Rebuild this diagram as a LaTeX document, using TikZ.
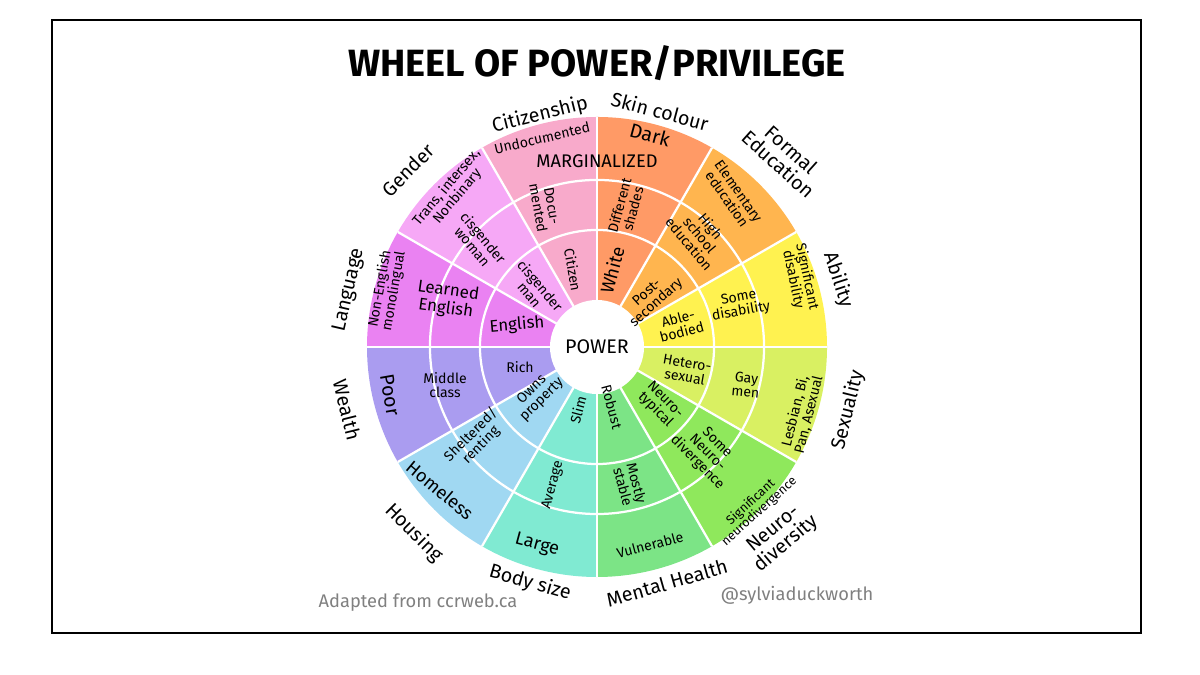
\documentclass[tikz,border=0pt]{standalone}
\usepackage{fontspec}
\setmainfont{Fira Sans}
\usetikzlibrary{positioning}
\definecolor{skin}{HTML}{FF9A66}
\definecolor{edu}{HTML}{FFB54F}
\definecolor{abil}{HTML}{FFF250}
\definecolor{sexu}{HTML}{D9F062}
\definecolor{neuro}{HTML}{8FE85C}
\definecolor{mental}{HTML}{7CE486}
\definecolor{body}{HTML}{80EAD2}
\definecolor{housing}{HTML}{A0D8F2}
\definecolor{wealth}{HTML}{AA9CF0}
\definecolor{lang}{HTML}{EA82F2}
\definecolor{gender}{HTML}{F6A8F6}
\definecolor{citiz}{HTML}{F8AACB}
\tikzset{
  lbl/.style={font=\fontsize{10}{10}\selectfont, align=center, inner sep=0pt},
  cat/.style={font=\fontsize{14}{14}\selectfont, align=center, inner sep=0pt},
  sepline/.style={white, line width=1.6pt}
}
\begin{document}
\begin{tikzpicture}[x=0.025cm, y=0.025cm]
    \useasboundingbox (0,0) rectangle (1200,675);
    \draw[line width=1.2pt] (52,42) rectangle (1141,655);
    \node[font=\bfseries\fontsize{27}{27}\selectfont] (title) at (597,612) {WHEEL OF POWER/PRIVILEGE};
    % wheel
    \begin{scope}[shift={(597,328)}]
      \foreach \a/\c in {60/skin,30/edu,0/abil,-30/sexu,-60/neuro,-90/mental,-120/body,-150/housing,180/wealth,150/lang,120/gender,90/citiz}
        \fill[\c] (0,0) -- (\a:230) arc[start angle=\a, delta angle=30, radius=5.75cm] -- cycle;
      \draw[sepline] (0,0) circle[radius=2.925cm];
      \draw[sepline] (0,0) circle[radius=4.175cm];
      \foreach \a in {0,30,...,330}
        \draw[sepline] (0,0) -- (\a:230);
      \fill[white] (0,0) circle[radius=1.175cm];
    \end{scope}
    \node[font=\fontsize{14}{14}\selectfont] (power) at (597,328) {POWER};
    \node[font=\fontsize{13}{13}\selectfont] (marg) at (597,514) {MARGINALIZED};
    % categories
    \node[cat, rotate=14] (citizenship) at (540,560) {Citizenship};
    \node[cat, rotate=-15] (skincol) at (660,564) {Skin colour};
    \node[cat, rotate=-42] (education) at (785,518) {Formal\\Education};
    \node[cat, rotate=-72] (ability) at (838,395) {Ability};
    \node[cat, rotate=76] (sexuality) at (848,265) {Sexuality};
    \node[cat, rotate=40] (neurodiv) at (780,138) {Neuro-\\diversity};
    \node[cat, rotate=16] (mentalh) at (667,92) {Mental Health};
    \node[cat, rotate=-16] (bodysize) at (530,92) {Body size};
    \node[cat, rotate=-45] (housingl) at (414,142) {Housing};
    \node[cat, rotate=-76] (wealthl) at (347,265) {Wealth};
    \node[cat, rotate=77] (language) at (349,385) {Language};
    \node[cat, rotate=45] (genderl) at (408,505) {Gender};
    % citizenship
    \node[lbl, rotate=13] (undoc) at (542,537) {Undocumented};
    \node[lbl, rotate=-80] (docu) at (545,468) {Docu-\\mented};
    \node[lbl, rotate=-80] (citizen) at (573,405) {Citizen};
    % skin colour
    \node[lbl, rotate=-15, font=\fontsize{14}{14}\selectfont] (dark) at (650,540) {Dark};
    \node[lbl, rotate=75] (shades) at (626,468) {Different\\shades};
    \node[lbl, rotate=75, font=\fontsize{13}{13}\selectfont] (white) at (612,405) {White};
    % formal education
    \node[lbl, rotate=-55] (elem) at (733,480) {Elementary\\education};
    \node[lbl, rotate=-50] (highs) at (700,440) {High\\school\\education};
    \node[lbl, rotate=42] (postsec) at (652,377) {Post-\\secondary};
    % ability
    \node[lbl, rotate=-78] (sigdis) at (800,397) {Significant\\disability};
    \node[lbl, rotate=10] (somedis) at (740,370) {Some\\disability};
    \node[lbl, rotate=15] (able) at (680,350) {Able-\\bodied};
    % sexuality
    \node[lbl, rotate=76] (lgba) at (802,262) {Lesbian, Bi,\\Pan, Asexual};
    \node[lbl, rotate=-5] (gay) at (746,290) {Gay\\men};
    \node[lbl, rotate=-10] (hetero) at (686,305) {Hetero-\\sexual};
    % neurodiversity
    \node[lbl, rotate=42, font=\fontsize{9}{9}\selectfont] (signeuro) at (755,168) {Significant\\neurodivergence};
    \node[lbl, rotate=-45] (someneuro) at (707,222) {Some\\Neuro-\\divergence};
    \node[lbl, rotate=-45] (neurotyp) at (660,270) {Neuro-\\typical};
    % mental health
    \node[lbl, rotate=15] (vulner) at (650,130) {Vulnerable};
    \node[lbl, rotate=-75] (mostly) at (630,190) {Mostly\\stable};
    \node[lbl, rotate=-75] (robust) at (612,268) {Robust};
    % body size
    \node[lbl, rotate=-15, font=\fontsize{13}{13}\selectfont] (large) at (537,130) {Large};
    \node[lbl, rotate=75] (average) at (553,190) {Average};
    \node[lbl, rotate=75] (slim) at (578,265) {Slim};
    % housing
    \node[lbl, rotate=-40, font=\fontsize{13}{13}\selectfont] (homeless) at (440,185) {Homeless};
    \node[lbl, rotate=45] (shelter) at (476,235) {Sheltered/\\renting};
    \node[lbl, rotate=45] (owns) at (537,280) {Owns\\property};
    % wealth
    \node[lbl, rotate=-80, font=\fontsize{14}{14}\selectfont] (poor) at (390,280) {Poor};
    \node[lbl] (middle) at (445,290) {Middle\\class};
    \node[lbl] (rich) at (520,308) {Rich};
    % language
    \node[lbl, rotate=80] (noneng) at (387,385) {Non-English\\monolingual};
    \node[lbl, rotate=-8, font=\fontsize{12}{13}\selectfont] (learned) at (447,375) {Learned\\English};
    \node[lbl, rotate=5, font=\fontsize{12}{12}\selectfont] (english) at (517,350) {English};
    % gender
    \node[lbl, rotate=50] (trans) at (452,483) {Trans, intersex,\\Nonbinary};
    \node[lbl, rotate=-50] (ciswoman) at (478,433) {cisgender\\woman};
    \node[lbl, rotate=-50] (cisman) at (535,385) {cisgender\\man};
    % footer
    \node[font=\fontsize{13}{13}\selectfont, text=gray] (adapted) at (418,72) {Adapted from ccrweb.ca};
    \node[font=\fontsize{13}{13}\selectfont, text=gray] (credit) at (797,80) {@sylviaduckworth};
\end{tikzpicture}
\end{document}
